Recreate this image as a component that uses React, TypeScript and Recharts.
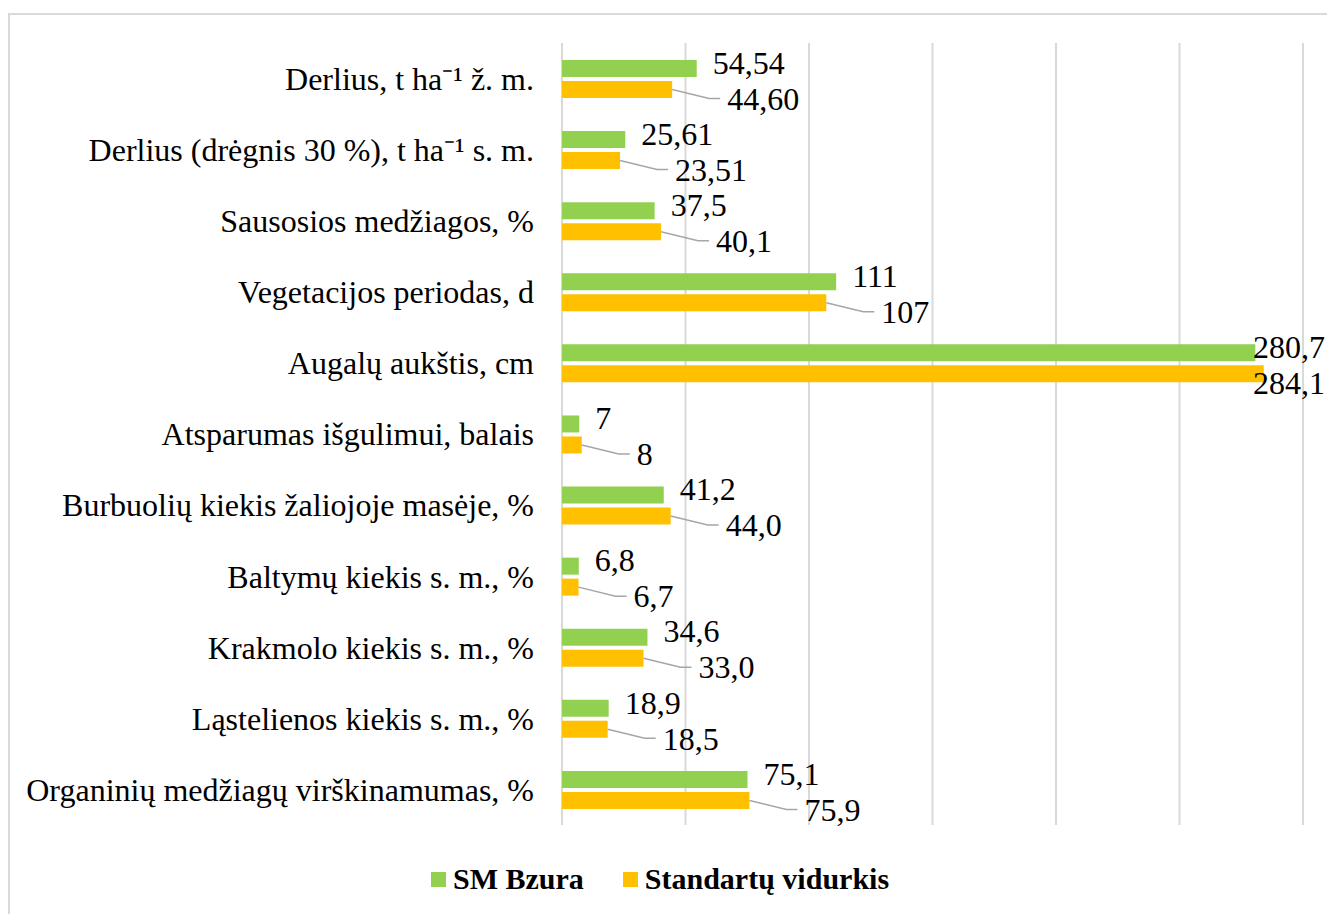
import { BarChart, Bar, XAxis, YAxis, CartesianGrid, LabelList } from 'recharts'

const categories = [
  'Derlius, t ha⁻¹ ž. m.',
  'Derlius (drėgnis 30 %), t ha⁻¹ s. m.',
  'Sausosios medžiagos, %',
  'Vegetacijos periodas, d',
  'Augalų aukštis, cm',
  'Atsparumas išgulimui, balais',
  'Burbuolių kiekis žaliojoje masėje, %',
  'Baltymų kiekis s. m., %',
  'Krakmolo kiekis s. m., %',
  'Ląstelienos kiekis s. m., %',
  'Organinių medžiagų virškinamumas, %',
]
const bzura = [54.54, 25.61, 37.5, 111, 280.7, 7, 41.2, 6.8, 34.6, 18.9, 75.1]
const standard = [44.6, 23.51, 40.1, 107, 284.1, 8, 44.0, 6.7, 33.0, 18.5, 75.9]
const bzuraText = ['54,54', '25,61', '37,5', '111', '280,7', '7', '41,2', '6,8', '34,6', '18,9', '75,1']
const standardText = ['44,60', '23,51', '40,1', '107', '284,1', '8', '44,0', '6,7', '33,0', '18,5', '75,9']
const xTicks = [0, 50, 100, 150, 200, 250, 300]

const GREEN = '#92D050'
const ORANGE = '#FFC000'
const FONT = '"Liberation Serif", "Times New Roman", serif'
const FS = 32
const W = 1327

const data = categories.map((name, i) => ({
  name,
  bzura: bzura[i],
  standard: standard[i],
  bzuraText: bzuraText[i],
  standardText: standardText[i],
}))

function textWidth(s: string) {
  let w = 0
  for (const c of s) w += c === ',' ? 0.25 : 0.5
  return w * FS
}

function GreenLabel(props: any) {
  const { x, y, width, height, value } = props
  const end = x + width
  const tw = textWidth(String(value))
  const lx = Math.min(end + 16, W - tw - 2)
  const cy = y + height / 2 - 6
  return (
    <text x={lx} y={cy} dy="0.35em" fontFamily={FONT} fontSize={FS} fill="#000">
      {value}
    </text>
  )
}

function OrangeLabel(props: any) {
  const { x, y, width, height, value } = props
  const end = x + width
  const cy = y + height / 2
  const tw = textWidth(String(value))
  const lx = Math.min(end + 55, W - tw - 2)
  const ly = cy + 9
  return (
    <g>
      {lx > end + 20 && (
        <polyline
          points={`${end},${cy} ${lx - 18},${ly} ${lx - 7},${ly}`}
          fill="none"
          stroke="#a6a6a6"
          strokeWidth={1.5}
        />
      )}
      <text x={lx} y={ly} dy="0.35em" fontFamily={FONT} fontSize={FS} fill="#000">
        {value}
      </text>
    </g>
  )
}

const legendItems = [
  { label: 'SM Bzura', color: GREEN },
  { label: 'Standartų vidurkis', color: ORANGE },
]

export default function App() {
  return (
    <div style={{ position: 'absolute', left: 0, top: 0, width: W, height: 914, overflow: 'hidden', background: '#fff' }}>
      <div
        style={{
          position: 'absolute', left: 8, top: 13, width: 1340, height: 920,
          border: '2px solid #d9d9d9', boxSizing: 'border-box',
        }}
      />
      <div style={{ position: 'absolute', left: 0, top: 0 }}>
        <BarChart
          width={W}
          height={914}
          data={data}
          layout="vertical"
          margin={{ top: 43, right: 24, bottom: 89, left: 0 }}
          barSize={17}
          barGap={4}
        >
          <CartesianGrid horizontal={false} stroke="#d9d9d9" strokeWidth={2} />
          <XAxis type="number" domain={[0, 300]} ticks={xTicks} hide />
          <YAxis
            type="category"
            dataKey="name"
            width={562}
            axisLine={false}
            tickLine={false}
            tickSize={0}
            tickMargin={28}
            interval={0}
            tick={{ fontFamily: FONT, fontSize: FS, fill: '#000' }}
          />
          <Bar dataKey="bzura" name="SM Bzura" fill={GREEN} isAnimationActive={false}>
            <LabelList dataKey="bzuraText" content={<GreenLabel />} />
          </Bar>
          <Bar dataKey="standard" name="Standartų vidurkis" fill={ORANGE} isAnimationActive={false}>
            <LabelList dataKey="standardText" content={<OrangeLabel />} />
          </Bar>
        </BarChart>
      </div>
      <div
        style={{
          position: 'absolute', top: 860, left: 431, height: 38,
          display: 'flex', alignItems: 'center', gap: 39,
        }}
      >
        {legendItems.map((it) => (
          <div key={it.label} style={{ display: 'flex', alignItems: 'center' }}>
            <span style={{ width: 15, height: 15, background: it.color, display: 'inline-block', marginRight: 7 }} />
            <span style={{ fontFamily: FONT, fontSize: 30, fontWeight: 'bold', color: '#000' }}>{it.label}</span>
          </div>
        ))}
      </div>
    </div>
  )
}
